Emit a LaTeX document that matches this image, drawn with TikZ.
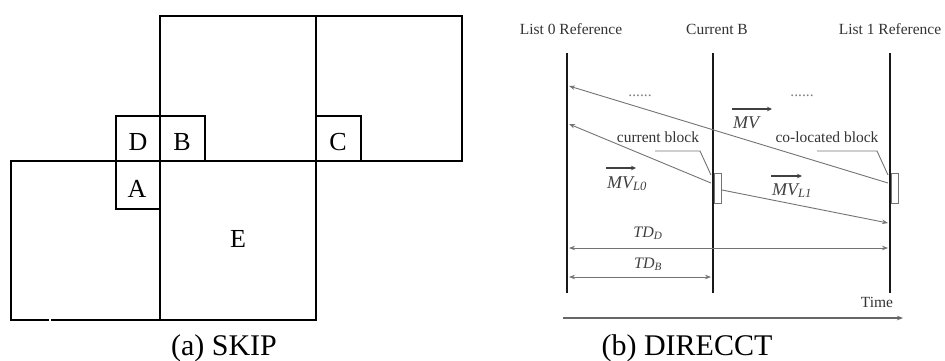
\documentclass[tikz,border=0pt]{standalone}
\usepackage{amsmath}
\usepackage{fontspec}
\setmainfont{Liberation Serif}
\usetikzlibrary{arrows.meta}
\begin{document}
\begin{tikzpicture}[x=1pt,y=-1pt,
  boxline/.style={line width=2.6pt,line cap=rect},
  axisline/.style={line width=2.8pt,black!90},
  thinln/.style={line width=0.9pt,black!55},
  tip/.style={-{Stealth[length=6pt,width=4.5pt]}},
  dtip/.style={{Stealth[length=6pt,width=4.5pt]}-{Stealth[length=6pt,width=4.5pt]}},
  overarr/.style={line width=1.3pt,black!75,-{Stealth[length=5pt,width=4.5pt]}},
  lbl/.style={font=\fontsize{26}{28}\selectfont,anchor=base,inner sep=0pt},
  captxt/.style={font=\fontsize{30}{32}\selectfont,anchor=base,inner sep=0pt},
  sm/.style={font=\fontsize{15.5}{17}\selectfont,anchor=base,inner sep=0pt,text=black!80},
  mv/.style={font=\fontsize{18}{20}\selectfont,anchor=base west,inner sep=0pt,text=black!75}
]
\useasboundingbox (0,0) rectangle (945,360);
% ---------- (a) SKIP ----------
\draw[boxline] (160,16) rectangle (462,161);
\draw[boxline] (316,16) -- (316,161);
\draw[boxline] (48,320) -- (11,320) -- (11,161) -- (316,161) -- (316,320) -- (52,320);
\draw[boxline] (160,161) -- (160,320);
\draw[boxline] (116,116) rectangle (160,161);
\draw[boxline] (160,116) rectangle (205,161);
\draw[boxline] (116,161) rectangle (160,209);
\draw[boxline] (316,116) rectangle (361,161);
\node[lbl] (D) at (138,150) {D};
\node[lbl] (B) at (182,150) {B};
\node[lbl] (C) at (338,150) {C};
\node[lbl] (A) at (137,197) {A};
\node[lbl] (E) at (238,247) {E};
\node[captxt] (capa) at (224,355) {(a) SKIP};
% ---------- (b) DIRECCT ----------
\coordinate (l0t) at (567,53); \coordinate (l0b) at (567,293);
\coordinate (cbt) at (713,53); \coordinate (cbb) at (713,293);
\coordinate (l1t) at (890,53); \coordinate (l1b) at (890,293);
\draw[axisline] (l0t) -- (l0b);
\draw[axisline] (cbt) -- (cbb);
\draw[axisline] (l1t) -- (l1b);
\node[sm] (h0) at (571,34) {List 0 Reference};
\node[sm] (h1) at (717,34) {Current B};
\node[sm] (h2) at (890,34) {List 1 Reference};
\node[sm,text=black!50] (dots1) at (640,96) {......};
\node[sm,text=black!50] (dots2) at (802,96) {......};
% blocks
\draw[thinln] (714.5,173) rectangle (721.5,203);
\draw[thinln] (891.5,173) rectangle (898.5,203);
\coordinate (cbk) at (711,183);
\coordinate (cbk2) at (722,190);
\coordinate (clk) at (888,183);
% motion vectors
\coordinate (mvend) at (569,86);
\coordinate (l0end) at (569,124);
\coordinate (l1end) at (888,223);
\draw[thinln,tip] (clk) -- (mvend);
\draw[thinln,tip] (cbk) -- (l0end);
\draw[thinln,tip] (cbk2) -- (l1end);
% leaders
\node[sm] (cbl) at (658,142) {current block};
\node[sm] (cll) at (827,142) {co-located block};
\coordinate (ld1a) at (655,151); \coordinate (ld1b) at (700,151); \coordinate (ld1c) at (711,175);
\coordinate (ld2a) at (817,151); \coordinate (ld2b) at (877,151); \coordinate (ld2c) at (888,175);
\draw[thinln] (ld1a) -- (ld1b) -- (ld1c);
\draw[thinln] (ld2a) -- (ld2b) -- (ld2c);
% labels
\node[mv] (mvl) at (733,128) {\itshape MV};
\coordinate (a1a) at (732,109); \coordinate (a1b) at (772,109);
\draw[overarr] (a1a) -- (a1b);
\node[mv] (mvl0) at (607,188) {\itshape MV$_{\text{\itshape L0}}$};
\coordinate (a2a) at (606,168); \coordinate (a2b) at (636,168);
\draw[overarr] (a2a) -- (a2b);
\node[mv] (mvl1) at (772,195) {\itshape MV$_{\text{\itshape L1}}$};
\coordinate (a3a) at (771,176); \coordinate (a3b) at (802,176);
\draw[overarr] (a3a) -- (a3b);
% TD arrows
\coordinate (tdd0) at (569,248); \coordinate (tdd1) at (888,248);
\coordinate (tdb0) at (569,277); \coordinate (tdb1) at (711,277);
\draw[thinln,dtip] (tdd0) -- (tdd1);
\draw[thinln,dtip] (tdb0) -- (tdb1);
\node[mv,anchor=base,font=\fontsize{16}{18}\selectfont] (tdd) at (648,237) {\itshape TD$_{\text{\itshape D}}$};
\node[mv,anchor=base,font=\fontsize{16}{18}\selectfont] (tdb) at (648,268) {\itshape TD$_{\text{\itshape B}}$};
% time axis
\coordinate (ta) at (563,318); \coordinate (tb) at (903,318);
\draw[line width=1.3pt,black!60,tip] (ta) -- (tb);
\node[sm] (time) at (877,307) {Time};
\node[captxt] (capb) at (687,355) {(b) DIRECCT};
\end{tikzpicture}
\end{document}
